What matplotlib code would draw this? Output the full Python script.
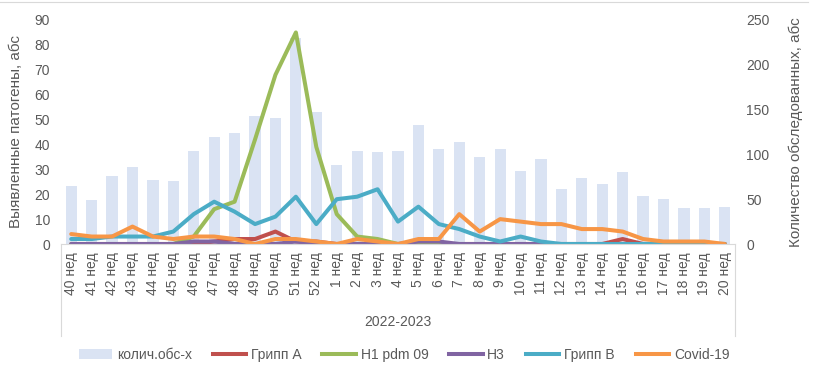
import matplotlib
matplotlib.use("Agg")
import matplotlib.pyplot as plt
from matplotlib.lines import Line2D
from matplotlib.patches import Patch

weeks = [f"{w} нед" for w in range(40, 53)] + [f"{w} нед" for w in range(1, 21)]
group_label = "2022-2023"

examined = [65, 49, 76, 86, 71, 70, 104, 119, 124, 143, 141, 230, 147,
            88, 104, 103, 104, 133, 106, 114, 97, 106, 81, 95, 61, 74, 67, 80, 54, 50, 40, 40, 41]
flu_a = [0, 0, 0, 0, 0, 0, 0, 1, 2, 2, 5, 1, 1,
         0, 0, 0, 0, 0, 0, 0, 0, 0, 0, 0, 0, 0, 0, 2, 0, 0, 0, 0, 0]
h1 = [0, 0, 0, 0, 0, 0, 3, 14, 17, 42, 68, 85, 39,
      12, 3, 2, 0, 0, 0, 0, 0, 0, 0, 0, 0, 0, 0, 0, 0, 0, 0, 0, 0]
h3 = [0, 0, 0, 0, 0, 0, 1, 1, 0, 0, 0, 1, 0,
      0, 0, 0, 0, 1, 1, 0, 0, 0, 0, 0, 0, 0, 0, 0, 0, 0, 0, 0, 0]
flu_b = [2, 2, 3, 3, 3, 5, 12, 17, 13, 8, 11, 19, 8,
         18, 19, 22, 9, 15, 8, 6, 3, 1, 3, 1, 0, 0, 0, 0, 0, 0, 0, 0, 0]
covid = [4, 3, 3, 7, 3, 2, 3, 3, 2, 0, 2, 2, 1,
         0, 2, 1, 0, 2, 2, 12, 5, 10, 9, 8, 8, 6, 6, 5, 2, 1, 1, 1, 0]

series = [
    ("Грипп А", flu_a, "#c0504d"),
    ("H1 pdm 09", h1, "#9bbb59"),
    ("H3", h3, "#8064a2"),
    ("Грипп В", flu_b, "#4bacc6"),
    ("Covid-19", covid, "#f79646"),
]
bar_color = "#dae3f3"
txt = "#595959"

plt.rcParams['font.family'] = ['Liberation Sans', 'DejaVu Sans']

fig = plt.figure(figsize=(8.13, 3.68), dpi=100)
ax = fig.add_axes([61/813, 1-244/368, (735-61)/813, (244-20)/368])
ax2 = ax.twinx()

x = list(range(len(weeks)))
ax2.bar(x, examined, width=0.55, color=bar_color, zorder=1)
ax2.set_ylim(0, 250)
ax2.set_yticks(range(0, 251, 50))

for name, vals, col in series:
    ax.plot(x, vals, color=col, lw=2.9, solid_joinstyle='round', solid_capstyle='round', label=name)

ax.set_zorder(ax2.get_zorder() + 1)
ax.patch.set_visible(False)

ax.set_xlim(-0.5, len(weeks) - 0.5)
ax.set_ylim(0, 90)
ax.set_yticks(range(0, 91, 10))
ax.set_xticks(x)
ax.set_xticklabels(weeks, rotation=90, fontsize=10, color=txt)

for a in (ax, ax2):
    for s in a.spines.values():
        s.set_visible(False)
    a.tick_params(axis='y', length=0, labelsize=10, labelcolor=txt, pad=8)
ax.tick_params(axis='x', length=0, pad=6)
ax.spines['bottom'].set_visible(True)
ax.spines['bottom'].set_color("#d9d9d9")

ax.set_ylabel("Выявленные патогены, абс", fontsize=11, color=txt, labelpad=8)
ax2.set_ylabel("Количество обследованных, абс", fontsize=11, color=txt, labelpad=14)

# multi-level category axis
for xa in (0, 1):
    ax.plot([xa, xa], [0, -0.41], transform=ax.transAxes, color="#d9d9d9", lw=0.8, clip_on=False)
ax.text(0.5, -0.35, group_label, transform=ax.transAxes, ha='center', va='center', fontsize=10, color=txt)

handles = [Patch(facecolor=bar_color, edgecolor='none', label="колич.обс-х")]
handles += [Line2D([0], [0], color=c, lw=2.9, label=n) for n, _, c in series]
fig.legend(handles=handles, loc='center', bbox_to_anchor=(404/813, 1-355/368), ncol=6,
           frameon=False, fontsize=10, handlelength=2.4, columnspacing=1.5, handletextpad=0.35,
           labelcolor=txt)

fig.add_artist(Line2D([0, 808/813], [1-2/368, 1-2/368], color="#d9d9d9", lw=0.8))

fig.savefig("out.png", dpi=100)
